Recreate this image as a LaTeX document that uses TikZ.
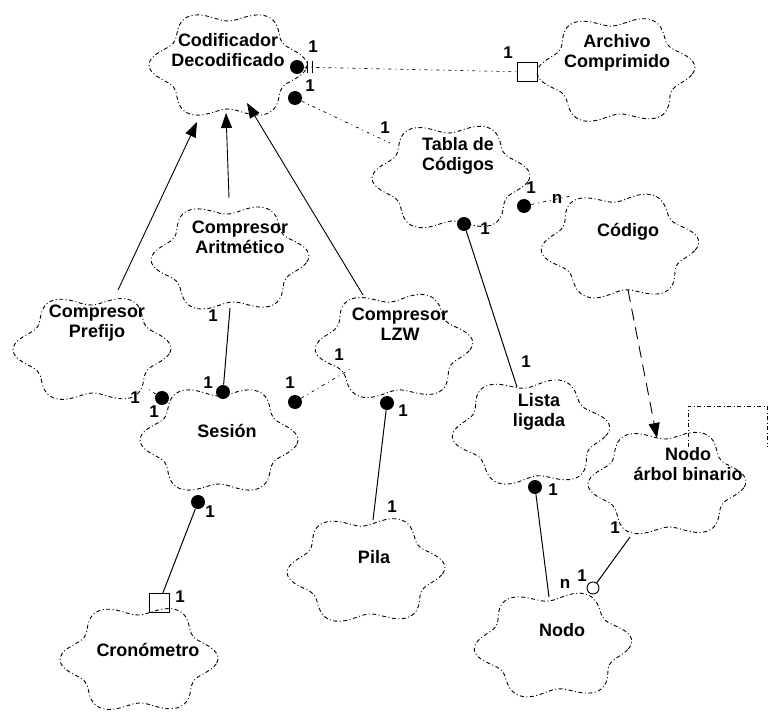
\documentclass[tikz,border=0pt]{standalone}
\usepackage{fontspec}
\setmainfont{Liberation Sans}
\usetikzlibrary{arrows.meta}

\tikzset{
  nube/.pic={
    \draw[borde] plot[domain=0:355, samples=72, smooth cycle]
      ({(71+8*cos(6*\x+#1))*cos(\x)}, {(50+6*cos(6*\x+#1))*sin(\x)});
  }
}

\begin{document}
\begin{tikzpicture}[x=1pt, y=-1pt, line width=0.9pt,
  borde/.style={dash pattern=on 4pt off 2.5pt on 1pt off 2.5pt},
  clase/.style={align=center, font=\fontsize{18}{20}\selectfont\bfseries, inner sep=1pt},
  mult/.style={font=\fontsize{17}{17}\selectfont\bfseries, inner sep=0pt},
  punto/.style={circle, fill, inner sep=0pt, minimum size=14pt},
  hueco/.style={circle, draw, fill=white, inner sep=0pt, minimum size=12pt},
  caja/.style={draw, line width=0.7pt, inner sep=0pt, minimum width=20pt, minimum height=19pt},
  hereda/.style={-{Triangle[length=15pt,width=11pt]}},
  usa/.style={dash pattern=on 12pt off 7pt, -{Triangle[length=15pt,width=11pt]}},
  tiene/.style={dash pattern=on 3pt off 4pt on 1pt off 4pt, line width=0.7pt},
  asoc/.style={line width=1pt}]
  \useasboundingbox (0,0) rectangle (769,717);

  % nubes de las clases
  \draw[borde] (688,447) |- (767,406) -- (767,447);
  \pic at (228,65) {nube=0};
  \pic at (616,70) {nube=20};
  \pic at (451,177) {nube=10};
  \pic at (620,246) {nube=30};
  \pic at (230,258) {nube=15};
  \pic at (92,349) {nube=5};
  \pic at (394,346) {nube=25};
  \pic at (219,440) {nube=0};
  \pic at (531,432) {nube=35};
  \pic at (667,483) {nube=10};
  \pic at (366,570) {nube=20};
  \pic at (139,659) {nube=5};
  \pic at (553,645) {nube=30};

  \node[clase] (cod) at (228,50) {Codificador\\Decodificado};
  \node[clase] (arch) at (617,53) {Archivo\\Comprimido};
  \node[clase] (tabla) at (458,156) {Tabla de\\Códigos};
  \node[clase] (codigo) at (628,232) {Código};
  \node[clase] (arit) at (240,237) {Compresor\\Aritmético};
  \node[clase] (pref) at (97,323) {Compresor\\Prefijo};
  \node[clase] (lzw) at (400,324) {Compresor\\LZW};
  \node[clase] (ses) at (227,431) {Sesión};
  \node[clase] (lista) at (539,412) {Lista\\ligada};
  \node[clase] (arbol) at (688,464) {Nodo\\árbol binario};
  \node[clase] (pila) at (374,557) {Pila};
  \node[clase] (crono) at (148,650) {Cronómetro};
  \node[clase] (nodo) at (562,630) {Nodo};

  % herencia
  \coordinate (pref-sup) at (118,290);
  \coordinate (arit-sup) at (229,198);
  \coordinate (lzw-sup) at (363,295);
  \coordinate (cod-a) at (197,122);
  \coordinate (cod-b) at (226,113);
  \coordinate (cod-c) at (247,103);
  \draw[hereda] (pref-sup) -- (cod-a);
  \draw[hereda] (arit-sup) -- (cod-b);
  \draw[hereda] (lzw-sup) -- (cod-c);

  % Codificador - Archivo
  \node[punto] (pA) at (297,67) {};
  \node[caja] (sA) at (527,72) {};
  \draw[tiene] (pA) -- (sA);
  \draw[asoc] (307,61) -- (307,73) (312,61) -- (312,73);
  \node[mult] (mA1) at (313,47) {1};
  \node[mult] (mA2) at (508,53) {1};

  % Codificador - Tabla
  \node[punto] (pB) at (295,98) {};
  \coordinate (tabla-izq) at (390,143);
  \draw[tiene] (pB) -- (tabla-izq);
  \node[mult] (mB1) at (310,86) {1};
  \node[mult] (mB2) at (385,128) {1};

  % Tabla - Codigo
  \node[punto] (pC) at (524,206) {};
  \coordinate (codigo-izq) at (571,196);
  \draw[tiene] (pC) -- (codigo-izq);
  \node[mult] (mC1) at (531,188) {1};
  \node[mult] (mC2) at (557,199) {n};

  % Tabla - Lista
  \node[punto] (pD) at (464,224) {};
  \coordinate (lista-sup) at (517,387);
  \draw[asoc] (pD) -- (lista-sup);
  \node[mult] (mD1) at (485,229) {1};
  \node[mult] (mD2) at (526,362) {1};

  % Codigo usa Nodo arbol binario
  \coordinate (codigo-inf) at (628,290);
  \coordinate (arbol-sup) at (657,438);
  \draw[usa] (codigo-inf) -- (arbol-sup);

  % Lista - Nodo
  \node[punto] (pE) at (535,487) {};
  \coordinate (nodo-sup) at (549,597);
  \draw[asoc] (pE) -- (nodo-sup);
  \node[mult] (mE1) at (553,490) {1};
  \node[mult] (mE2) at (565,584) {n};

  % Nodo arbol binario - Nodo
  \node[hueco] (oF) at (593,588) {};
  \coordinate (arbol-inf) at (630,537);
  \draw[asoc] (oF) -- (arbol-inf);
  \node[mult] (mF1) at (582,576) {1};
  \node[mult] (mF2) at (615,528) {1};

  % Aritmetico - Sesion
  \coordinate (arit-inf) at (230,308);
  \node[punto] (pG) at (223,392) {};
  \draw[asoc] (arit-inf) -- (pG);
  \node[mult] (mG1) at (213,316) {1};
  \node[mult] (mG2) at (208,383) {1};

  % Prefijo - Sesion
  \node[punto] (pH) at (162,398) {};
  \coordinate (pref-inf) at (148,389);
  \draw[tiene] (pH) -- (pref-inf);
  \node[mult] (mH1) at (135,398) {1};
  \node[mult] (mH2) at (154,412) {1};

  % LZW - Sesion
  \node[punto] (pI) at (295,402) {};
  \coordinate (lzw-izq) at (352,368);
  \draw[tiene] (pI) -- (lzw-izq);
  \node[mult] (mI1) at (290,383) {1};
  \node[mult] (mI2) at (339,355) {1};

  % LZW - Pila
  \node[punto] (pJ) at (387,403) {};
  \coordinate (pila-sup) at (373,520);
  \draw[asoc] (pJ) -- (pila-sup);
  \node[mult] (mJ1) at (403,411) {1};
  \node[mult] (mJ2) at (392,507) {1};

  % Sesion - Cronometro
  \node[punto] (pK) at (198,502) {};
  \node[caja] (sK) at (159,603) {};
  \draw[asoc] (pK) -- (sK);
  \node[mult] (mK1) at (210,512) {1};
  \node[mult] (mK2) at (180,597) {1};
\end{tikzpicture}
\end{document}
